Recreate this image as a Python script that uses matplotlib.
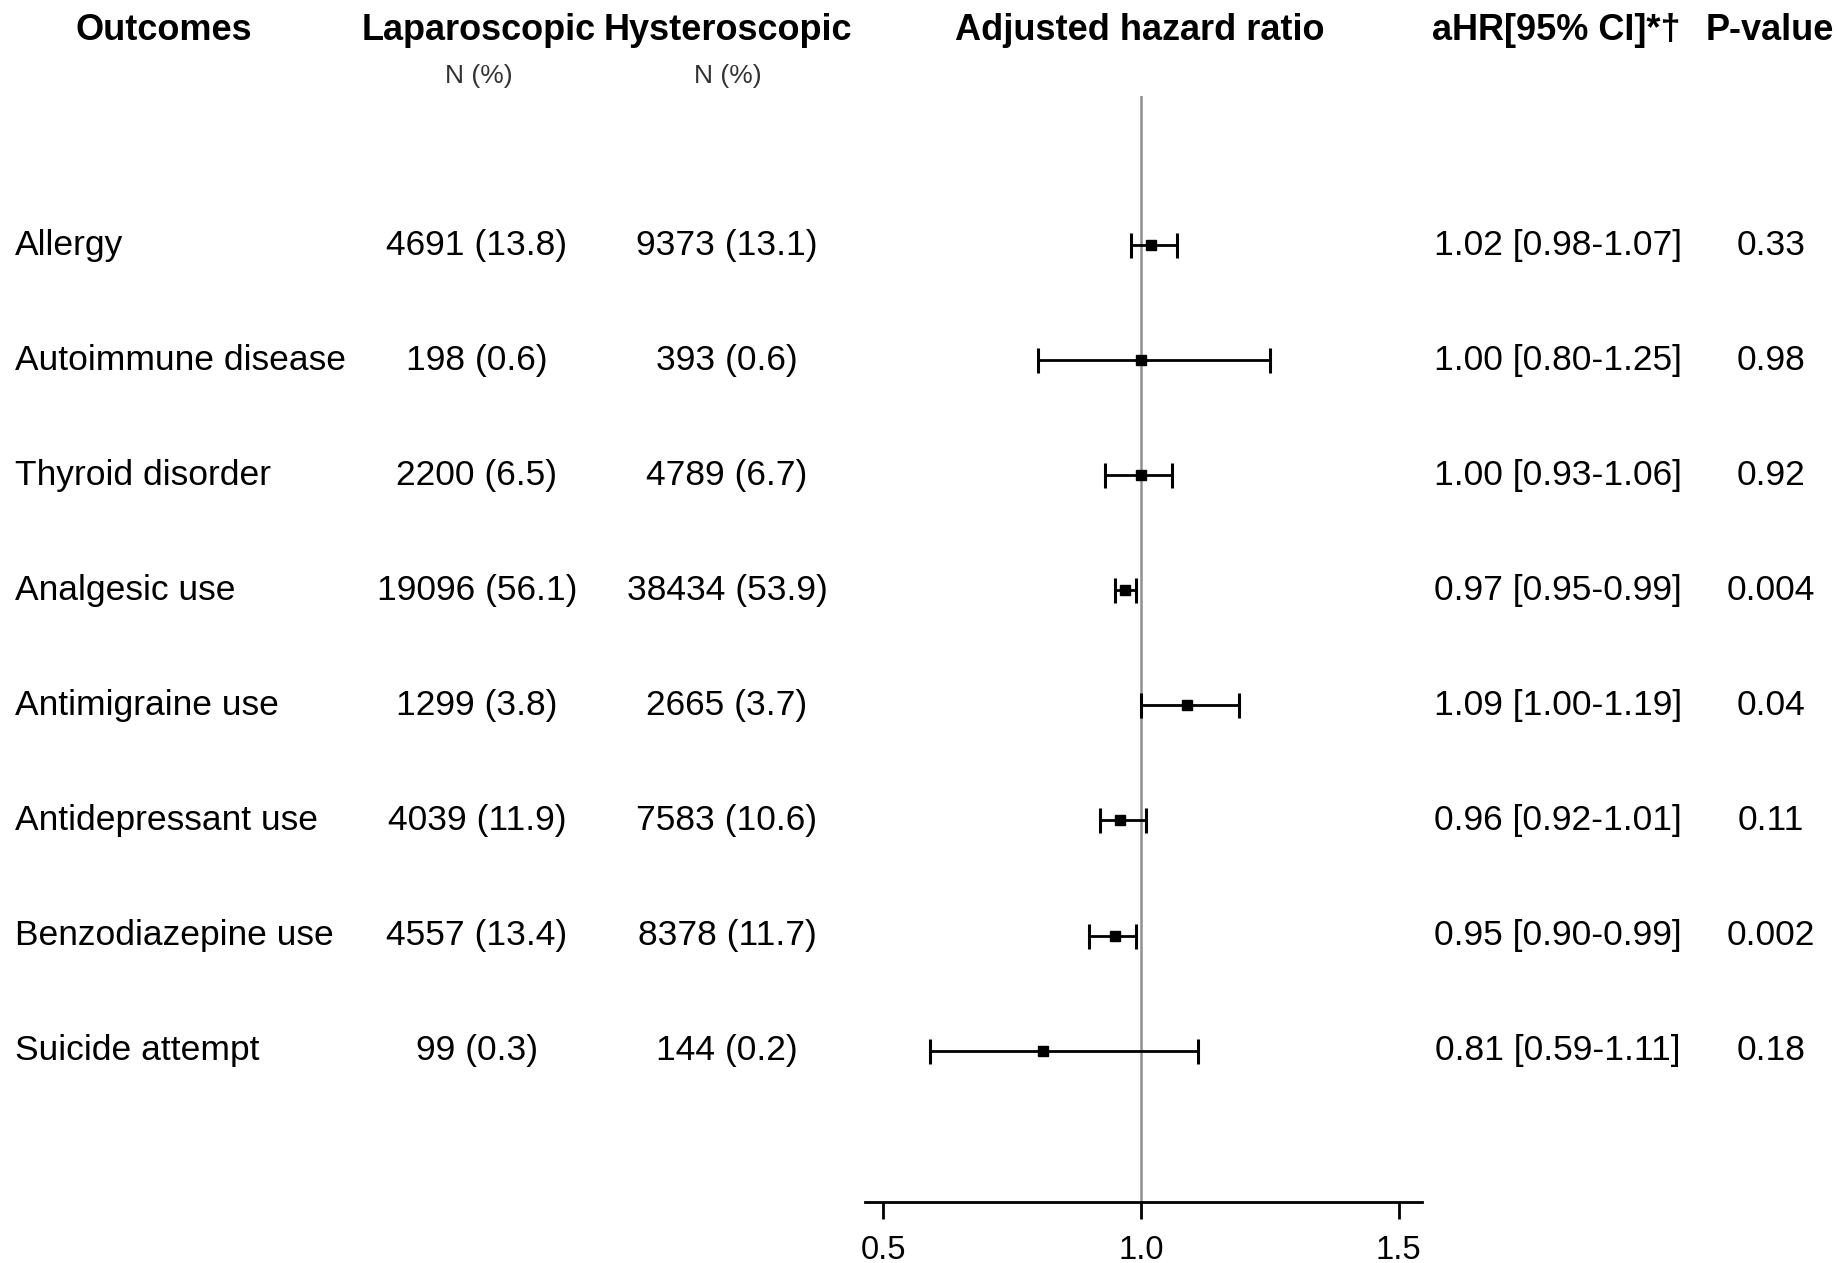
import matplotlib
matplotlib.use("Agg")
import matplotlib.pyplot as plt
import matplotlib.transforms as mtransforms

plt.rcParams['font.family'] = ['Liberation Sans', 'DejaVu Sans']

outcomes = ['Allergy', 'Autoimmune disease', 'Thyroid disorder', 'Analgesic use',
            'Antimigraine use', 'Antidepressant use', 'Benzodiazepine use', 'Suicide attempt']
lap_n = [4691, 198, 2200, 19096, 1299, 4039, 4557, 99]
lap_pct = [13.8, 0.6, 6.5, 56.1, 3.8, 11.9, 13.4, 0.3]
hys_n = [9373, 393, 4789, 38434, 2665, 7583, 8378, 144]
hys_pct = [13.1, 0.6, 6.7, 53.9, 3.7, 10.6, 11.7, 0.2]
ahr = [1.02, 1.00, 1.00, 0.97, 1.09, 0.96, 0.95, 0.81]
ci_low = [0.98, 0.80, 0.93, 0.95, 1.00, 0.92, 0.90, 0.59]
ci_high = [1.07, 1.25, 1.06, 0.99, 1.19, 1.01, 0.99, 1.11]
p_values = ['0.33', '0.98', '0.92', '0.004', '0.04', '0.11', '0.002', '0.18']
xticks = [0.5, 1.0, 1.5]

W, H = 1837, 1263
fig = plt.figure(figsize=(W / 100, H / 100), dpi=100)
ax = fig.add_axes([864.5 / W, 1 - 1202 / H, (1422 - 864.5) / W, (1202 - 96) / H])

rows = list(range(len(outcomes)))
ax.set_xlim(0.4635, 1.5456)
ax.set_ylim(8.315, -1.295)

ax.axvline(1.0, color='#909090', lw=1.8, zorder=1)
err = [[a - l for a, l in zip(ahr, ci_low)], [h - a for a, h in zip(ahr, ci_high)]]
ax.errorbar(ahr, rows, xerr=err, fmt='s', color='black', ms=7, lw=2,
            capsize=9, capthick=2.2, zorder=3)

for s in ['top', 'right', 'left']:
    ax.spines[s].set_visible(False)
ax.spines['bottom'].set_linewidth(2)
ax.set_yticks([])
ax.set_xticks(xticks)
ax.set_xticklabels(['%.1f' % t for t in xticks], fontsize=23.5)
ax.tick_params(axis='x', length=12, width=2, pad=12)

tr = mtransforms.blended_transform_factory(fig.transFigure, ax.transData)
fs = 25.5
for i in rows:
    ax.text(15 / W, i, outcomes[i], transform=tr, ha='left', va='center', fontsize=fs)
    ax.text(477 / W, i, '%d (%.1f)' % (lap_n[i], lap_pct[i]), transform=tr,
            ha='center', va='center', fontsize=fs)
    ax.text(727 / W, i, '%d (%.1f)' % (hys_n[i], hys_pct[i]), transform=tr,
            ha='center', va='center', fontsize=fs)
    ax.text(1558 / W, i, '%.2f [%.2f-%.2f]' % (ahr[i], ci_low[i], ci_high[i]),
            transform=tr, ha='center', va='center', fontsize=fs)
    ax.text(1771 / W, i, p_values[i], transform=tr, ha='center', va='center', fontsize=fs)

hy = 1 - 30 / H
hfs = 26
fig.text(164 / W, hy, 'Outcomes', ha='center', va='center', fontsize=hfs, weight='bold')
fig.text(479 / W, hy, 'Laparoscopic', ha='center', va='center', fontsize=hfs, weight='bold')
fig.text(728 / W, hy, 'Hysteroscopic', ha='center', va='center', fontsize=hfs, weight='bold')
fig.text(1140 / W, hy, 'Adjusted hazard ratio', ha='center', va='center', fontsize=hfs, weight='bold')
fig.text(1556 / W, hy, 'aHR[95% CI]*†', ha='center', va='center', fontsize=hfs, weight='bold')
fig.text(1770 / W, hy, 'P-value', ha='center', va='center', fontsize=hfs, weight='bold')
ny = 1 - 76 / H
fig.text(479 / W, ny, 'N (%)', ha='center', va='center', fontsize=19, color='#333333')
fig.text(728 / W, ny, 'N (%)', ha='center', va='center', fontsize=19, color='#333333')

fig.savefig('out.png', dpi=100)
